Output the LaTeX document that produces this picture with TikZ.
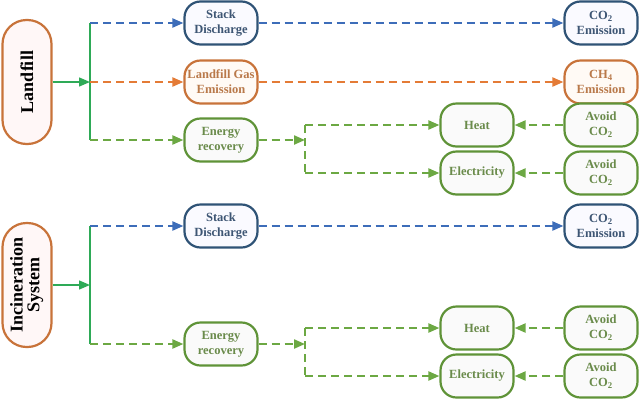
\documentclass[tikz,border=0pt]{standalone}
\usepackage{fontspec}
\setmainfont{Liberation Serif}
\usetikzlibrary{arrows.meta}
\definecolor{blA}{HTML}{3D6DB9}
\definecolor{blB}{HTML}{2F5376}
\definecolor{blT}{HTML}{3E5674}
\definecolor{orA}{HTML}{E47B36}
\definecolor{orB}{HTML}{C8733A}
\definecolor{orT}{HTML}{B9794A}
\definecolor{grA}{HTML}{6CA843}
\definecolor{grB}{HTML}{5F9338}
\definecolor{grT}{HTML}{6A8B4B}
\definecolor{tealA}{HTML}{2EAA57}
\tikzset{
  x=1pt, y=-1pt,
  box/.style={draw=#1, line width=2.2pt, rounded corners=16pt, minimum width=73pt, minimum height=43pt,
    inner sep=0pt, align=center, font=\fontsize{12.5}{15}\selectfont\bfseries},
  bbox/.style={box=blB, text=blT, fill=blue!2},
  obox/.style={box=orB, text=orT, fill=orange!4},
  gbox/.style={box=grB, text=grT, fill=gray!4},
  mainbox/.style={draw=orB, line width=2.2pt, rounded corners=24pt, minimum width=49pt, minimum height=124pt,
    inner sep=0pt, fill=red!3, font=\fontsize{18}{20}\selectfont\bfseries},
  tip/.style={-{Triangle[length=11pt,width=9pt]}},
  dsh/.style={line width=2.2pt, dash pattern=on 8pt off 5pt},
  bd/.style={dsh, draw=blA, color=blA},
  od/.style={dsh, draw=orA, color=orA},
  gd/.style={dsh, draw=grA, color=grA},
  sol/.style={line width=1.4pt, draw=tealA, color=tealA},
}
\begin{document}
\begin{tikzpicture}
\useasboundingbox (0,0) rectangle (640,400);
% ---------- Landfill ----------
\node[mainbox] (lf) at (27,82) {\rotatebox{90}{Landfill}};
\node[bbox] (sd1) at (221,23) {Stack\\Discharge};
\node[obox] (lg1) at (221,82) {Landfill Gas\\Emission};
\node[gbox] (er1) at (221,140) {Energy\\recovery};
\node[bbox] (ce1) at (601,23) {CO\textsubscript{2}\\Emission};
\node[obox] (ch1) at (601,82) {CH\textsubscript{4}\\Emission};
\node[gbox] (h1) at (477,125) {Heat};
\node[gbox] (e1) at (477,173) {Electricity};
\node[gbox] (a1) at (601,125) {Avoid\\CO\textsubscript{2}};
\node[gbox] (a2) at (601,173) {Avoid\\CO\textsubscript{2}};
\coordinate (j1) at (90,82);
\coordinate (b1) at (305,140);
\draw[sol, tip] (lf.east) -- (j1);
\draw[sol] (j1 |- sd1.west) -- (j1 |- er1.west);
\draw[bd, tip] (j1 |- sd1.west) -- (sd1.west);
\draw[od, tip] (j1) -- (lg1.west);
\draw[gd, tip] (j1 |- er1.west) -- (er1.west);
\draw[bd, tip] (sd1.east) -- (ce1.west);
\draw[od, tip] (lg1.east) -- (ch1.west);
\draw[gd, tip] (er1.east) -- (b1);
\draw[gd] (b1 |- h1.west) -- (b1 |- e1.west);
\draw[gd, tip] (b1 |- h1.west) -- (h1.west);
\draw[gd, tip] (b1 |- e1.west) -- (e1.west);
\draw[gd, tip] (a1.west) -- (h1.east);
\draw[gd, tip] (a2.west) -- (e1.east);
% ---------- Incineration ----------
\node[mainbox] (in) at (27,285) {\rotatebox{90}{\begin{tabular}{@{}c@{}}Incineration\\[-3pt]System\end{tabular}}};
\node[bbox] (sd2) at (221,226) {Stack\\Discharge};
\node[gbox] (er2) at (221,344) {Energy\\recovery};
\node[bbox] (ce2) at (601,226) {CO\textsubscript{2}\\Emission};
\node[gbox] (h2) at (477,328) {Heat};
\node[gbox] (e2) at (477,376) {Electricity};
\node[gbox] (a3) at (601,328) {Avoid\\CO\textsubscript{2}};
\node[gbox] (a4) at (601,376) {Avoid\\CO\textsubscript{2}};
\coordinate (j2) at (90,285);
\coordinate (b2) at (305,344);
\draw[sol, tip] (in.east) -- (j2);
\draw[sol] (j2 |- sd2.west) -- (j2 |- er2.west);
\draw[bd, tip] (j2 |- sd2.west) -- (sd2.west);
\draw[gd, tip] (j2 |- er2.west) -- (er2.west);
\draw[bd, tip] (sd2.east) -- (ce2.west);
\draw[gd, tip] (er2.east) -- (b2);
\draw[gd] (b2 |- h2.west) -- (b2 |- e2.west);
\draw[gd, tip] (b2 |- h2.west) -- (h2.west);
\draw[gd, tip] (b2 |- e2.west) -- (e2.west);
\draw[gd, tip] (a3.west) -- (h2.east);
\draw[gd, tip] (a4.west) -- (e2.east);
\end{tikzpicture}
\end{document}
